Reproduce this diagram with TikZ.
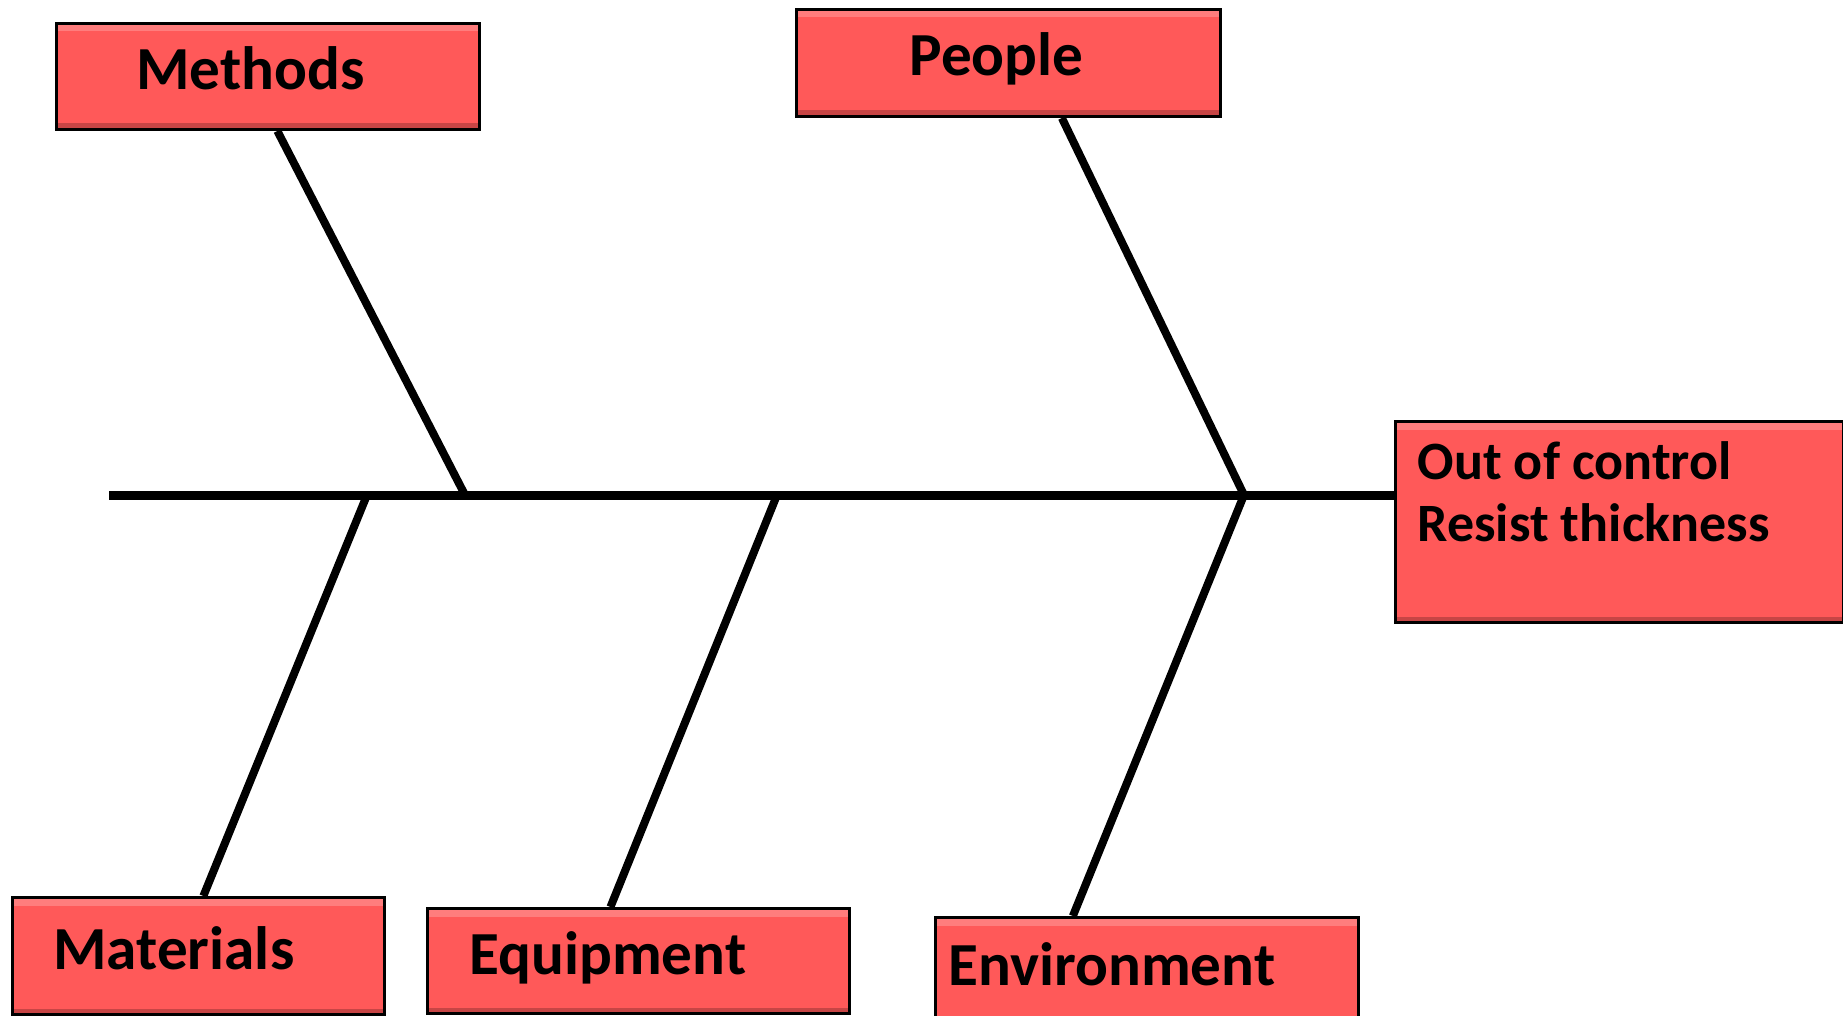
\documentclass[tikz,border=0pt]{standalone}
\usepackage{fontspec}
\setmainfont{Carlito}
\usetikzlibrary{calc}
\definecolor{causered}{RGB}{255,89,89}

\begin{document}
\begin{tikzpicture}[x=0.5pt, y=-0.5pt,
  box/.style={draw=black, line width=1.5pt, fill=causered, anchor=north west,
    font=\bfseries\fontsize{30.6}{31}\selectfont,
    path picture={
      \fill[white, opacity=0.22] (path picture bounding box.north west) rectangle ([yshift=-4pt]path picture bounding box.north east);
      \fill[black, opacity=0.22] (path picture bounding box.south west) rectangle ([yshift=3pt]path picture bounding box.south east);}},
  cause/.style={box, align=left, text height=20pt, text depth=7pt},
  bone/.style={line width=4pt},
  spine/.style={line width=4.5pt}]
\useasboundingbox (0,0) rectangle (1843,1016);
% cause boxes
\node[cause, minimum width=211.5pt, minimum height=53pt, text width=131.5pt, inner xsep=40pt] (methods) at (55,22) {Methods};
\node[cause, minimum width=212pt, minimum height=53.5pt, text width=99pt, inner xsep=56.5pt] (people) at (795,8) {People};
\node[cause, minimum width=186pt, minimum height=58.5pt, text width=145pt, inner xsep=20pt] (materials) at (11,896) {Materials};
\node[cause, minimum width=211pt, minimum height=52.5pt, text width=169pt, inner xsep=20.5pt] (equipment) at (426,907) {Equipment};
\node[cause, minimum width=211.5pt, minimum height=55pt, text width=198.5pt, inner xsep=6pt] (environment) at (934,916) {Environment};
% effect
\node[box, inner xsep=11pt, inner ysep=10pt] (effect) at (1394,420) {\fontsize{27}{31}\selectfont\parbox[t][80.5pt][t]{202pt}{Out of control\\Resist thickness}};
% spine and bones
\coordinate (tail) at (109,495);
\coordinate (jmat) at (367,495);
\coordinate (jmeth) at (465,495);
\coordinate (jequip) at (777,495);
\coordinate (jpeople) at (1244,495);
\draw[spine] (tail) -- (tail -| effect.west);
\draw[bone] ($(methods.south west)!0.522!(methods.south east)$) -- (jmeth);
\draw[bone] ($(people.south west)!0.625!(people.south east)$) -- (jpeople);
\draw[bone] ($(materials.north west)!0.513!(materials.north east)$) -- (jmat);
\draw[bone] ($(equipment.north west)!0.434!(equipment.north east)$) -- (jequip);
\draw[bone] ($(environment.north west)!0.326!(environment.north east)$) -- (jpeople);
\end{tikzpicture}
\end{document}
